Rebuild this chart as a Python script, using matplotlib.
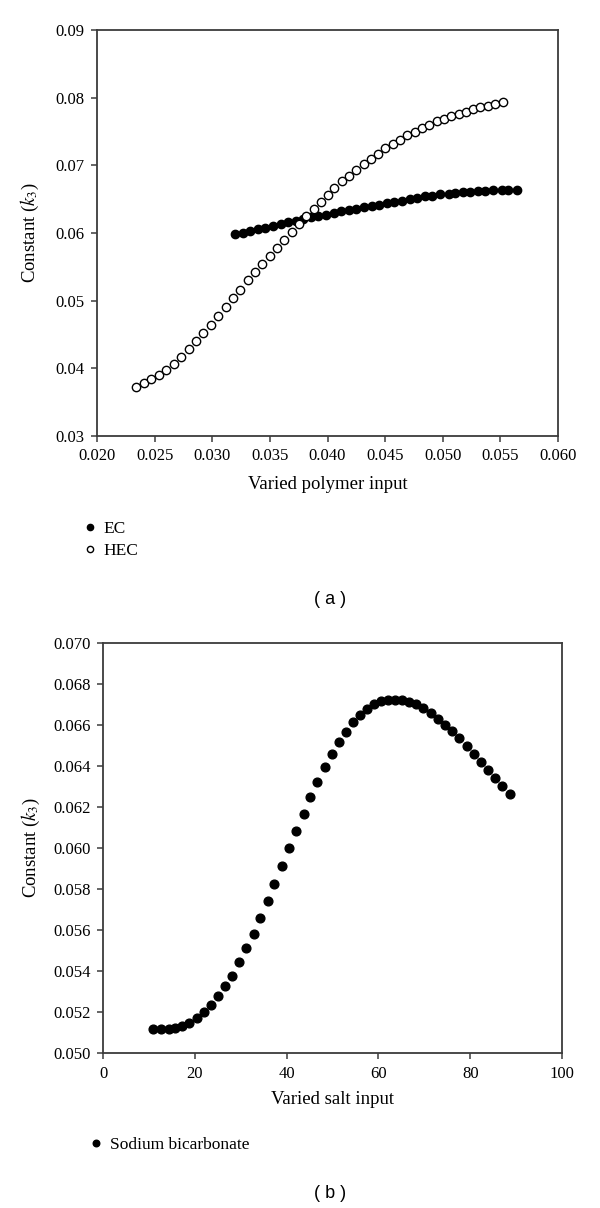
import matplotlib
matplotlib.use('Agg')
import matplotlib.pyplot as plt
from matplotlib.ticker import FormatStrFormatter, MultipleLocator

plt.rcParams['font.family'] = ['Liberation Serif', 'DejaVu Serif']
plt.rcParams['mathtext.fontset'] = 'stix'

# ---------------- Panel (a) data ----------------
ec_x = [0.0320, 0.0327, 0.0333, 0.0340, 0.0346, 0.0353, 0.0360, 0.0366, 0.0373, 0.0379,
        0.0386, 0.0392, 0.0399, 0.0406, 0.0412, 0.0419, 0.0425, 0.0432, 0.0439, 0.0445,
        0.0452, 0.0458, 0.0465, 0.0472, 0.0478, 0.0485, 0.0491, 0.0498, 0.0505, 0.0511,
        0.0518, 0.0524, 0.0531, 0.0537, 0.0544, 0.0551, 0.0557, 0.0564]
ec_y = [0.0598, 0.0600, 0.0603, 0.0606, 0.0608, 0.0611, 0.0613, 0.0616, 0.0618, 0.0620,
        0.0623, 0.0625, 0.0627, 0.0630, 0.0632, 0.0634, 0.0636, 0.0638, 0.0640, 0.0642,
        0.0644, 0.0646, 0.0648, 0.0650, 0.0652, 0.0654, 0.0655, 0.0657, 0.0658, 0.0659,
        0.0660, 0.0661, 0.0662, 0.0662, 0.0663, 0.0663, 0.0663, 0.0663]

hec_x = [0.0234, 0.0241, 0.0247, 0.0254, 0.0260, 0.0267, 0.0273, 0.0280, 0.0286, 0.0292,
         0.0299, 0.0305, 0.0312, 0.0318, 0.0324, 0.0331, 0.0337, 0.0343, 0.0350, 0.0356,
         0.0362, 0.0369, 0.0375, 0.0381, 0.0388, 0.0394, 0.0400, 0.0406, 0.0413, 0.0419,
         0.0425, 0.0432, 0.0438, 0.0444, 0.0450, 0.0457, 0.0463, 0.0469, 0.0476, 0.0482,
         0.0488, 0.0495, 0.0501, 0.0507, 0.0514, 0.0520, 0.0526, 0.0532, 0.0539, 0.0545,
         0.0552]
hec_y = [0.0373, 0.0378, 0.0384, 0.0390, 0.0397, 0.0407, 0.0417, 0.0428, 0.0440, 0.0452,
         0.0464, 0.0478, 0.0491, 0.0504, 0.0516, 0.0530, 0.0542, 0.0554, 0.0566, 0.0578,
         0.0590, 0.0601, 0.0613, 0.0625, 0.0635, 0.0646, 0.0656, 0.0666, 0.0677, 0.0684,
         0.0693, 0.0702, 0.0710, 0.0717, 0.0725, 0.0732, 0.0738, 0.0745, 0.0750, 0.0755,
         0.0760, 0.0765, 0.0769, 0.0773, 0.0776, 0.0779, 0.0783, 0.0786, 0.0788, 0.0790,
         0.0793]

# ---------------- Panel (b) data ----------------
salt_x = [11.0, 12.7, 14.3, 15.7, 17.3, 18.7, 20.4, 22.0, 23.5, 25.1,
          26.6, 28.2, 29.7, 31.2, 32.8, 34.3, 35.9, 37.3, 38.9, 40.5,
          42.1, 43.7, 45.1, 46.7, 48.3, 49.8, 51.5, 52.9, 54.5, 56.0,
          57.5, 59.0, 60.6, 62.1, 63.6, 65.2, 66.7, 68.3, 69.8, 71.4,
          72.9, 74.5, 76.1, 77.6, 79.2, 80.8, 82.3, 83.9, 85.5, 87.0,
          88.6]
salt_y = [0.05117, 0.05117, 0.05116, 0.05122, 0.05132, 0.05148, 0.05171, 0.05200, 0.05236, 0.05277,
          0.05327, 0.05377, 0.05442, 0.05511, 0.05580, 0.05660, 0.05743, 0.05824, 0.05912, 0.05998,
          0.06084, 0.06166, 0.06247, 0.06324, 0.06394, 0.06459, 0.06519, 0.06568, 0.06613, 0.06649,
          0.06677, 0.06701, 0.06717, 0.06722, 0.06723, 0.06722, 0.06714, 0.06701, 0.06681, 0.06660,
          0.06631, 0.06600, 0.06571, 0.06535, 0.06498, 0.06460, 0.06420, 0.06380, 0.06343, 0.06304,
          0.06262]

W, H = 600, 1208
fig = plt.figure(figsize=(W / 100, H / 100), dpi=100)

SPINE = '#3c3c3c'
TFS = 12      # tick labels
LFS = 13.5    # axis labels
GFS = 12.5    # legend


def style(ax):
    for s in ax.spines.values():
        s.set_color(SPINE)
        s.set_linewidth(1.3)
    ax.tick_params(direction='out', length=4, width=1.1, color=SPINE,
                   labelsize=TFS, pad=5, top=False, right=False)


# Panel (a)
axA = fig.add_axes([97 / W, 1 - 436 / H, (558 - 97) / W, (436 - 30) / H])
axA.plot(ec_x, ec_y, 'o', ls='none', color='black', ms=6, label='EC')
axA.plot(hec_x, hec_y, 'o', ls='none', mfc='white', mec='black', mew=1.0, ms=6, label='HEC')
axA.set_xlim(0.020, 0.060)
axA.set_ylim(0.03, 0.09)
axA.xaxis.set_major_locator(MultipleLocator(0.005))
axA.yaxis.set_major_locator(MultipleLocator(0.01))
axA.xaxis.set_major_formatter(FormatStrFormatter('%.3f'))
axA.yaxis.set_major_formatter(FormatStrFormatter('%.2f'))
style(axA)
axA.set_xlabel('Varied polymer input', fontsize=LFS, labelpad=8)
axA.set_ylabel('Constant ($k_3$)', fontsize=LFS, labelpad=10)
axA.legend(loc='center left', bbox_to_anchor=(82 / W, 1 - 540 / H), bbox_transform=fig.transFigure,
           frameon=False, handlelength=0.9, handletextpad=0.35, borderaxespad=0, borderpad=0,
           labelspacing=0.3, markerscale=0.75, fontsize=GFS)
fig.text(330 / W, 1 - 600 / H, '( a )', ha='center', va='center',
         family=['Liberation Sans', 'DejaVu Sans'], fontsize=13)

# Panel (b)
axB = fig.add_axes([103 / W, 1 - 1053 / H, (562 - 103) / W, (1053 - 643) / H])
axB.plot(salt_x, salt_y, 'o', ls='none', color='black', ms=6.3, label='Sodium bicarbonate')
axB.set_xlim(0, 100)
axB.set_ylim(0.050, 0.070)
axB.xaxis.set_major_locator(MultipleLocator(20))
axB.yaxis.set_major_locator(MultipleLocator(0.002))
axB.yaxis.set_major_formatter(FormatStrFormatter('%.3f'))
style(axB)
axB.set_xlabel('Varied salt input', fontsize=LFS, labelpad=7)
axB.set_ylabel('Constant ($k_3$)', fontsize=LFS, labelpad=8)
axB.legend(loc='center left', bbox_to_anchor=(88 / W, 1 - 1145 / H), bbox_transform=fig.transFigure,
           frameon=False, handlelength=0.9, handletextpad=0.35, borderaxespad=0, borderpad=0,
           markerscale=0.75, fontsize=GFS)
fig.text(330 / W, 1 - 1193 / H, '( b )', ha='center', va='center',
         family=['Liberation Sans', 'DejaVu Sans'], fontsize=13)

fig.savefig('out.png', dpi=100, facecolor='white')
